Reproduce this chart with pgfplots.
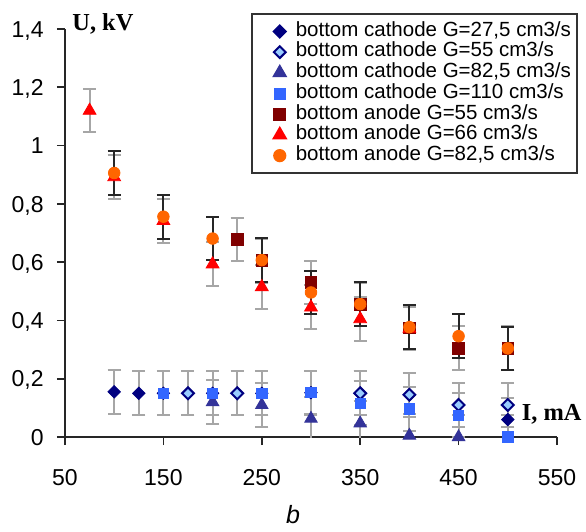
\documentclass[border=0pt]{standalone}
\usepackage{pgfplots}
\pgfplotsset{compat=1.18}
\usepackage{fontspec}
\setmainfont{Liberation Sans}
\newfontfamily\timesfont{Liberation Serif}

\definecolor{navy}{HTML}{000080}
\definecolor{paleblue}{HTML}{99CCFF}
\definecolor{indigo}{HTML}{333399}
\definecolor{brightblue}{HTML}{3366FF}
\definecolor{maroon}{HTML}{800000}
\definecolor{orng}{HTML}{FF6600}
\definecolor{bargray}{HTML}{A6A6A6}
\definecolor{barblack}{HTML}{262626}

\pgfplotsset{
  graybars/.style={error bars/.cd, y dir=both, y fixed=0.075,
    error bar style={line width=1pt, bargray},
    error mark options={rotate=90, mark size=3.25pt, line width=1pt, bargray}},
  blackbars/.style={error bars/.cd, y dir=both, y fixed=0.075,
    error bar style={line width=1pt, barblack},
    error mark options={rotate=90, mark size=3.25pt, line width=1pt, barblack}},
}

\begin{document}
\begin{tikzpicture}
\begin{axis}[
  scale only axis, width=246pt, height=204pt,
  xmin=50, xmax=550, ymin=0, ymax=1.4,
  axis lines=left,
  axis line style={-, line width=0.8pt, black!85},
  xtick={50,150,250,350,450,550},
  ytick={0,0.2,0.4,0.6,0.8,1,1.2,1.4},
  tick align=outside, major tick length=4pt,
  tick style={line width=0.8pt, black!85},
  /pgf/number format/assume math mode=true,
  /pgf/number format/use comma,
  /pgf/number format/1000 sep={},
  ticklabel style={font=\fontsize{11.5}{13}\selectfont},
  xticklabel style={anchor=base, inner sep=0pt, yshift=-20pt},
  yticklabel style={anchor=base east, inner sep=0pt, xshift=-6.5pt, yshift=-4.1pt},
  legend style={at={(0.378,1.039)}, anchor=north west,
    draw=black!80, line width=0.8pt, fill=white,
    inner xsep=3pt, inner ysep=3.6pt, row sep=0pt, column sep=0pt,
    font=\fontsize{10.25}{10.35}\selectfont,
    nodes={inner xsep=0pt, inner ysep=0pt, text height=7.6pt, text depth=2.75pt}},
  legend cell align=left,
  legend image code/.code={\path[draw=none, fill=none] (0pt,0pt) -- (19pt,0pt);
    \draw[#1] plot coordinates {(11pt,0pt)};},
]
\addplot[only marks, mark=square*, mark size=2.2pt,
  mark options={rotate=45, fill=navy, draw=navy}, graybars]
  coordinates {(100,0.155) (125,0.15) (150,0.15) (200,0.15) (250,0.15)
    (300,0.152) (350,0.15) (400,0.145) (500,0.06)};
\addlegendentry{bottom cathode G=27,5 cm3/s}
\addplot[only marks, mark=square*, mark size=2.1pt,
  mark options={rotate=45, fill=paleblue, draw=navy, line width=1pt}, graybars]
  coordinates {(175,0.15) (225,0.15) (350,0.15) (400,0.145) (450,0.11) (500,0.11)};
\addlegendentry{bottom cathode G=55 cm3/s}
\addplot[only marks, mark=triangle*, mark size=3.6pt,
  mark options={fill=indigo, draw=indigo}, graybars]
  coordinates {(200,0.12) (250,0.11) (300,0.063) (350,0.047) (400,0.005) (450,0.0)};
\addlegendentry{bottom cathode G=82,5 cm3/s}
\addplot[only marks, mark=square*, mark size=2.6pt,
  mark options={fill=brightblue, draw=brightblue}, graybars]
  coordinates {(150,0.15) (200,0.15) (250,0.15) (300,0.153) (350,0.116)
    (400,0.097) (450,0.075) (500,0.0)};
\addlegendentry{bottom cathode G=110 cm3/s}
\addplot[only marks, mark=square*, mark size=2.9pt,
  mark options={fill=maroon, draw=maroon}, graybars]
  coordinates {(225,0.678) (250,0.605) (300,0.53) (350,0.455) (400,0.375)
    (450,0.305) (500,0.305)};
\addlegendentry{bottom anode G=55 cm3/s}
\addplot[only marks, mark=triangle*, mark size=3.7pt,
  mark options={fill=red, draw=red}, graybars]
  coordinates {(75,1.12) (100,0.892) (150,0.742) (200,0.593) (250,0.515)
    (300,0.445) (350,0.405) (400,0.372)};
\addlegendentry{bottom anode G=66 cm3/s}
\addplot[only marks, mark=*, mark size=2.9pt,
  mark options={fill=orng, draw=orng}, blackbars]
  coordinates {(100,0.906) (150,0.756) (200,0.681) (250,0.607) (300,0.496)
    (350,0.456) (400,0.377) (450,0.346) (500,0.304)};
\addlegendentry{bottom anode G=82,5 cm3/s}
\end{axis}
\node[anchor=base west, inner sep=0pt, font=\timesfont\bfseries\fontsize{12.2}{14}\selectfont]
  at (3.5pt,203.5pt) {U, kV};
\node[anchor=base west, inner sep=0pt, font=\timesfont\bfseries\fontsize{12.2}{14}\selectfont]
  at (228.3pt,8.5pt) {I, mA};
\node[anchor=base, inner sep=0pt, font=\itshape\fontsize{12.5}{14}\selectfont]
  at (114pt,-43pt) {b};
\pgfresetboundingbox
\useasboundingbox (-32.5pt,-47.5pt) rectangle (260.5pt,218.5pt);
\end{tikzpicture}
\end{document}
